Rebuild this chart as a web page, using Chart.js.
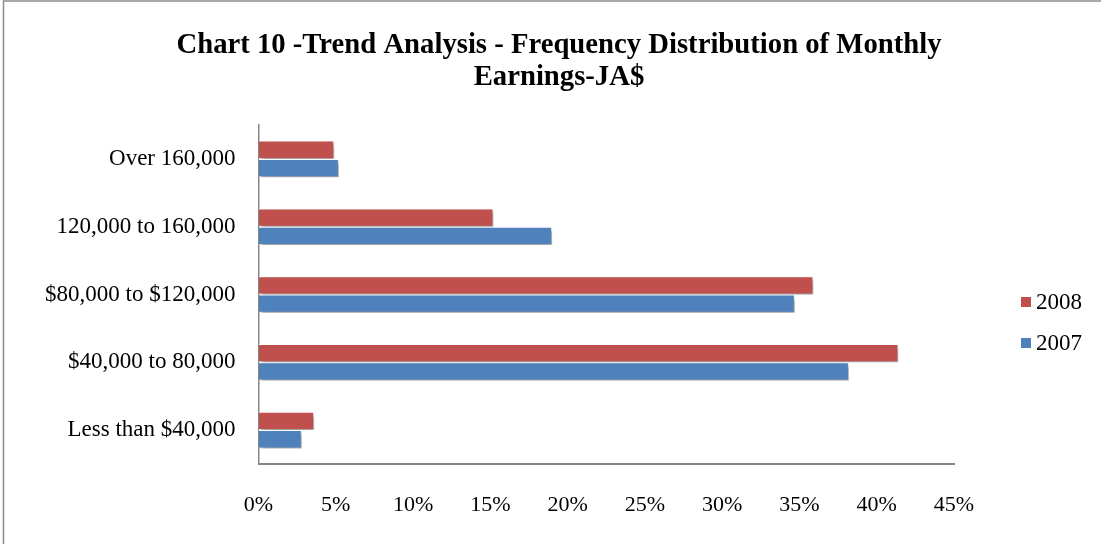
<!DOCTYPE html>
<html>
<head>
<meta charset="utf-8">
<script src="https://cdn.jsdelivr.net/npm/chart.js@4"></script>
<style>
  html, body { margin: 0; padding: 0; background: #fff; }
  #wrap { width: 1101px; height: 544px; position: relative; }
</style>
</head>
<body>
<div id="wrap"><canvas id="earnChart"></canvas></div>
<script>
// dados
const categorias = ['Over 160,000', '120,000 to 160,000', '$80,000 to $120,000', '$40,000 to 80,000', 'Less than $40,000'];
const valores2008 = [4.9, 15.2, 35.9, 41.4, 3.6];
const valores2007 = [5.2, 19.0, 34.7, 38.2, 2.8];
const ticksX = [0, 5, 10, 15, 20, 25, 30, 35, 40, 45];

const serif = "'Liberation Serif', 'Times New Roman', serif";

// moldura cinza (só aparecem a esquerda e o topo)
const moldura = {
    id: 'moldura',
    beforeDraw(chart) {
        const c = chart.ctx;
        c.save();
        c.strokeStyle = '#8c8c8c';
        c.lineWidth = 1.5;
        c.beginPath();
        c.moveTo(3.5, chart.height);
        c.lineTo(3.5, 1);
        c.lineTo(chart.width, 1);
        c.stroke();
        c.restore();
    }
};

// sombra das barras
const sombra = {
    id: 'sombra',
    beforeDatasetsDraw(chart) {
        const c = chart.ctx;
        c.save();
        c.shadowColor = 'rgba(0,0,0,0.4)';
        c.shadowBlur = 4;
        c.shadowOffsetX = 2;
        c.shadowOffsetY = 3;
    },
    afterDatasetsDraw(chart) {
        chart.ctx.restore();
    }
};

// legenda desenhada à direita
const legendaDireita = {
    id: 'legendaDireita',
    afterDraw(chart) {
        const c = chart.ctx;
        const x = chart.chartArea.right + 67, y0 = 302, passo = 41;
        c.save();
        c.font = '23px ' + serif;
        c.textBaseline = 'middle';
        chart.data.datasets.forEach((ds, i) => {
            const y = y0 + i * passo;
            c.fillStyle = ds.backgroundColor;
            c.fillRect(x, y - 5, 10, 10);
            c.fillStyle = '#000';
            c.fillText(ds.label, x + 15, y + 1);
        });
        c.restore();
    }
};

const ctx = document.getElementById('earnChart').getContext('2d');
const earnChart = new Chart(ctx, {
    type: 'bar',
    data: {
        labels: categorias,
        datasets: [{
            label: '2008',
            data: valores2008,
            backgroundColor: '#C0504D',
            borderColor: '#ffffff',
            borderWidth: 1
        }, {
            label: '2007',
            data: valores2007,
            backgroundColor: '#4F81BD',
            borderColor: '#ffffff',
            borderWidth: 1
        }]
    },
    options: {
        indexAxis: 'y',
        responsive: true,
        maintainAspectRatio: false,
        animation: false,
        layout: { padding: { left: 17, right: 0, top: 0, bottom: 25 } },
        datasets: { bar: { categoryPercentage: 0.54, barPercentage: 1.0 } },
        plugins: {
            legend: { display: false },
            tooltip: { enabled: false },
            title: {
                display: true,
                text: ['Chart 10 -Trend Analysis - Frequency Distribution of Monthly', 'Earnings-JA$'],
                color: '#000',
                font: { family: serif, size: 28.7, weight: 'bold', lineHeight: 1.115 },
                padding: { top: 30, bottom: 31 }
            }
        },
        scales: {
            x: {
                min: 0,
                max: 45,
                afterBuildTicks: (s) => { s.ticks = ticksX.map(v => ({ value: v })); },
                afterFit: (s) => { s.height = 55; },
                grid: { display: true, drawOnChartArea: false, drawTicks: false },
                border: { color: '#868686', width: 2 },
                ticks: {
                    color: '#000',
                    font: { family: serif, size: 22 },
                    padding: 28,
                    maxRotation: 0,
                    callback: (v) => v + '%'
                }
            },
            y: {
                afterFit: (s) => { s.width = 241.5; },
                grid: { display: true, drawOnChartArea: false, drawTicks: false },
                border: { color: '#868686', width: 1.5 },
                ticks: {
                    color: '#000',
                    font: { family: serif, size: 23 },
                    padding: 23
                }
            },
            // eixo vazio só para reservar o espaço da legenda
            y2: {
                type: 'category',
                position: 'right',
                afterFit: (s) => { s.width = 147; },
                grid: { display: false },
                border: { display: false },
                ticks: { display: false }
            }
        }
    },
    plugins: [moldura, sombra, legendaDireita]
});
</script>
</body>
</html>
